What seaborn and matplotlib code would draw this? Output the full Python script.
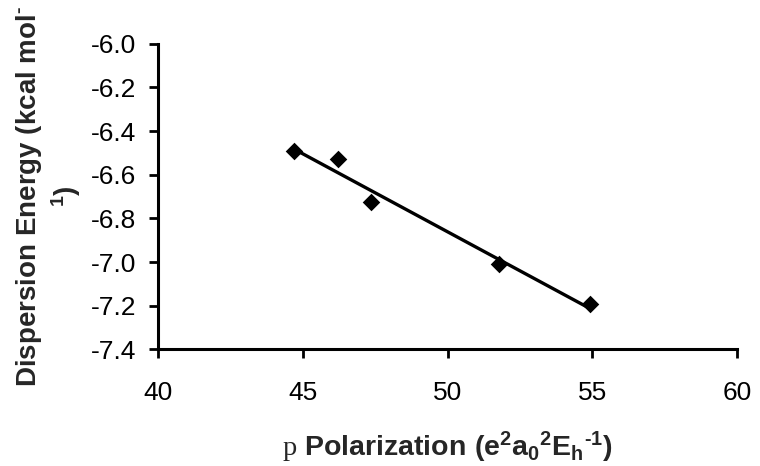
import matplotlib
matplotlib.use("Agg")
import matplotlib.pyplot as plt
import seaborn as sns
import pandas as pd
from matplotlib.ticker import FormatStrFormatter

# polarization (x) and dispersion energy (y) for the five systems
polarization = [44.69, 46.21, 47.37, 51.79, 54.90]
dispersion_energy = [-6.49, -6.53, -6.724, -7.011, -7.193]

x_ticks = [40, 45, 50, 55, 60]
y_ticks = [-6.0, -6.2, -6.4, -6.6, -6.8, -7.0, -7.2, -7.4]

sns.set_theme(style="ticks")
plt.rcParams["font.family"] = ["Liberation Sans", "DejaVu Sans"]
plt.rcParams["mathtext.fontset"] = "custom"
plt.rcParams["mathtext.rm"] = "Liberation Serif"
plt.rcParams["mathtext.bf"] = "Liberation Sans:bold"
plt.rcParams["mathtext.it"] = "Liberation Sans:bold"

df = pd.DataFrame({"pol": polarization, "disp": dispersion_energy})

fig = plt.figure(figsize=(7.6, 4.66), dpi=100)
ax = fig.add_axes([0.208, 0.2504, 0.762, 0.6556])

sns.regplot(data=df, x="pol", y="disp", ax=ax, ci=None, marker="D",
            scatter_kws=dict(s=80, color="black", edgecolor="black", linewidths=0,
                             alpha=1, zorder=3),
            line_kws=dict(color="black", lw=2.4))

ax.set_xlim(40, 60)
ax.set_ylim(-7.4, -6.0)
ax.set_xticks(x_ticks)
ax.set_yticks(y_ticks)
ax.yaxis.set_major_formatter(FormatStrFormatter("%.1f"))
ax.tick_params(axis="both", labelsize=19, length=6.5, width=2, color="black",
               labelcolor="black", direction="out")
ax.tick_params(axis="x", pad=16)
ax.tick_params(axis="y", pad=9)

for side in ("top", "right"):
    ax.spines[side].set_visible(False)
for side in ("left", "bottom"):
    ax.spines[side].set_linewidth(2.2)
    ax.spines[side].set_color("black")

ax.set_xlabel("$\\mathrm{p}$ $\\mathbf{Polarization\\ (e^2a_0{}^2E_h{}^{\u20101})}$",
              fontsize=20.5, labelpad=18)
ax.set_ylabel("Dispersion Energy (kcal mol$^{\\mathbf{\u2010}}$\n$^{\\mathbf{1}}$)",
              fontsize=20, fontweight="bold", labelpad=6)

fig.savefig("out.png", dpi=100)
